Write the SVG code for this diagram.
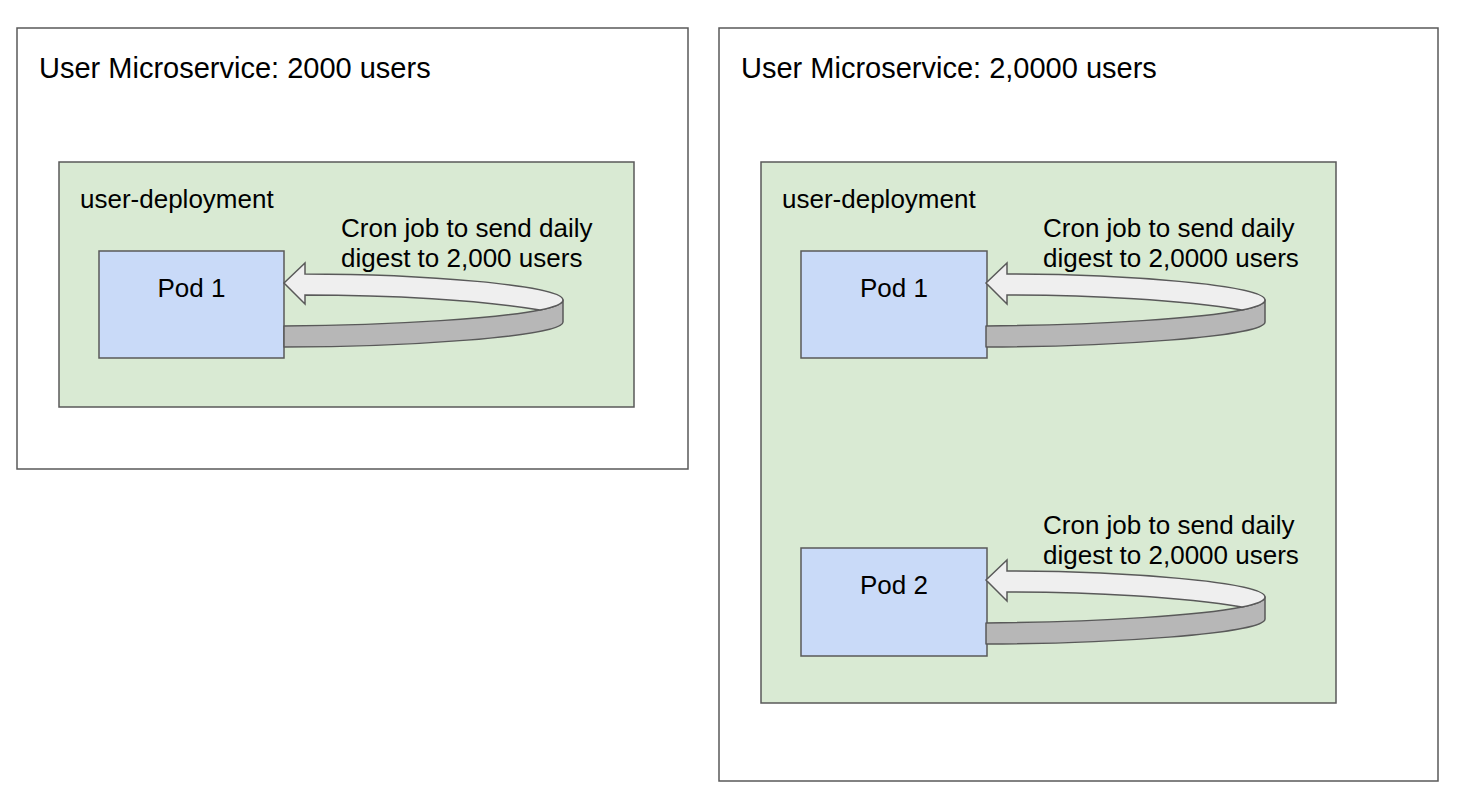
<svg xmlns="http://www.w3.org/2000/svg" width="1468" height="806" viewBox="0 0 1468 806">
<style>
.outer{fill:#ffffff;stroke:#595959;stroke-width:1.5}
.dep{fill:#d9ead3;stroke:#595959;stroke-width:1.5}
.pod{fill:#c9daf8;stroke:#595959;stroke-width:1.5}
.dark{fill:#b7b7b7;stroke:#595959;stroke-width:1.5;stroke-linejoin:round}
.light{fill:#efefef;stroke:#595959;stroke-width:1.5;stroke-linejoin:miter}
text{font-family:"Liberation Sans",Arial,sans-serif;fill:#000}
.t{font-size:29px}
.b{font-size:26px}
</style>
<defs>
<g id="loop">
<path class="dark" d="M284,326 C400,325 500,318 540,310 C555,307 563,304 563,300 L563,322 C563,337 400,347 284,347 Z"/>
<path class="light" d="M284,283 L305,263 L305,274 C420,274 563,285 563,300 C563,304 555,307 540,310 C480,300 390,295 305,295 L305,304 Z"/>
</g>
</defs>
<g id="left-service">
<rect class="outer" x="17" y="28" width="671" height="441"/>
<text class="t" x="39" y="78">User Microservice: 2000 users</text>
</g>
<g id="left-deployment">
<rect class="dep" x="59" y="162" width="575" height="245"/>
<text class="b" x="80" y="208">user-deployment</text>
</g>
<g id="left-pod1">
<rect class="pod" x="99" y="251" width="185" height="107"/>
<text class="b" x="191.5" y="297" text-anchor="middle">Pod 1</text>
</g>
<g id="right-service">
<rect class="outer" x="719" y="28" width="719" height="753"/>
<text class="t" x="741" y="78">User Microservice: 2,0000 users</text>
</g>
<g id="right-deployment">
<rect class="dep" x="761" y="162" width="575" height="541"/>
<text class="b" x="782" y="208">user-deployment</text>
</g>
<g id="right-pod1">
<rect class="pod" x="801" y="251" width="186" height="107"/>
<text class="b" x="894" y="297" text-anchor="middle">Pod 1</text>
</g>
<g id="right-pod2">
<rect class="pod" x="801" y="548" width="186" height="108"/>
<text class="b" x="894" y="594" text-anchor="middle">Pod 2</text>
</g>
<g id="connectors">
<use href="#loop"/>
<use href="#loop" transform="translate(702,0)"/>
<use href="#loop" transform="translate(702,297)"/>
</g>
<g id="labels">
<text class="b" x="341" y="236.5">Cron job to send daily</text>
<text class="b" x="341" y="266.5">digest to 2,000 users</text>
<text class="b" x="1043" y="236.5">Cron job to send daily</text>
<text class="b" x="1043" y="266.5">digest to 2,0000 users</text>
<text class="b" x="1043" y="533.5">Cron job to send daily</text>
<text class="b" x="1043" y="563.5">digest to 2,0000 users</text>
</g>
</svg>
